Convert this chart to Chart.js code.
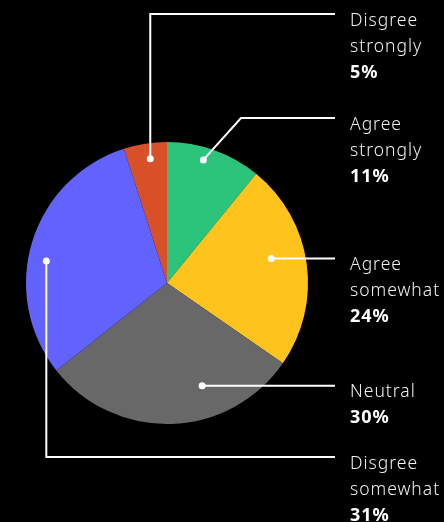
<!DOCTYPE html>
<html>
<head>
<meta charset="utf-8">
<script src="https://cdn.jsdelivr.net/npm/chart.js@4/dist/chart.umd.min.js"></script>
<style>
  html, body { margin: 0; padding: 0; background: #000; }
  canvas { display: block; }
</style>
</head>
<body>
<canvas id="surveyPie" width="444" height="522"></canvas>
<script>
// Survey answers, clockwise from 12 o'clock
const answerLines = [
    ['Agree', 'strongly'],
    ['Agree', 'somewhat'],
    ['Neutral'],
    ['Disgree', 'somewhat'],
    ['Disgree', 'strongly']
];
const answerShares = [11, 24, 30, 31, 5];
const sliceColors = ['#2cc37a', '#ffc31e', '#686868', '#6262ff', '#d85028'];

// Where each callout dot sits inside its slice and how its leader line runs
const callouts = [
    { at: 0.42, r: 0.91, route: 'elbow', lineY: 118, bendX: 241 },
    { at: 0.44, r: 0.76, route: 'flat' },
    { at: 0.34, r: 0.77, route: 'flat' },
    { at: 0.44, r: 0.87, route: 'down', lineY: 457 },
    { at: 0.57, r: 0.89, route: 'up', lineY: 14 }
];

const LINE_END_X = 335;
const TEXT_X = 350;
const LINE_GAP = 26;

const calloutPlugin = {
    id: 'callouts',
    afterDatasetsDraw(chart) {
        const ctx = chart.ctx;
        const meta = chart.getDatasetMeta(0);
        ctx.save();
        meta.data.forEach((arc, i) => {
            const p = arc.getProps(['x', 'y', 'startAngle', 'endAngle', 'outerRadius'], true);
            const c = callouts[i];
            const ang = p.startAngle + (p.endAngle - p.startAngle) * c.at;
            const dx = p.x + Math.cos(ang) * p.outerRadius * c.r;
            const dy = p.y + Math.sin(ang) * p.outerRadius * c.r;

            // leader line
            ctx.strokeStyle = '#ffffff';
            ctx.lineWidth = 2;
            ctx.beginPath();
            ctx.moveTo(dx, dy);
            let ly = dy;
            if (c.route === 'elbow') {
                ctx.lineTo(c.bendX, c.lineY);
                ly = c.lineY;
            } else if (c.route === 'up' || c.route === 'down') {
                ctx.lineTo(dx, c.lineY);
                ly = c.lineY;
            }
            ctx.lineTo(LINE_END_X, ly);
            ctx.stroke();

            // dot
            ctx.fillStyle = '#ffffff';
            ctx.beginPath();
            ctx.arc(dx, dy, 3.5, 0, Math.PI * 2);
            ctx.fill();

            // label text + percentage
            ctx.textAlign = 'left';
            ctx.textBaseline = 'alphabetic';
            ctx.letterSpacing = '1px';
            let base = ly + 11.5;
            ctx.font = '300 17.5px "Noto Sans"';
            ctx.fillStyle = '#f2f2f2';
            answerLines[i].forEach(line => {
                ctx.fillText(line, TEXT_X, base);
                base += LINE_GAP;
            });
            ctx.font = 'bold 18px "Noto Sans"';
            ctx.fillStyle = '#ffffff';
            ctx.fillText(answerShares[i] + '%', TEXT_X, base);
        });
        ctx.restore();
    }
};

new Chart(document.getElementById('surveyPie').getContext('2d'), {
    type: 'pie',
    data: {
        labels: answerLines.map(l => l.join(' ')),
        datasets: [{
            data: answerShares,
            backgroundColor: sliceColors,
            borderWidth: 0
        }]
    },
    options: {
        responsive: false,
        animation: false,
        layout: { padding: { left: 26, right: 136, top: 142, bottom: 98 } },
        plugins: {
            legend: { display: false },
            tooltip: { enabled: false }
        }
    },
    plugins: [calloutPlugin]
});
</script>
</body>
</html>
